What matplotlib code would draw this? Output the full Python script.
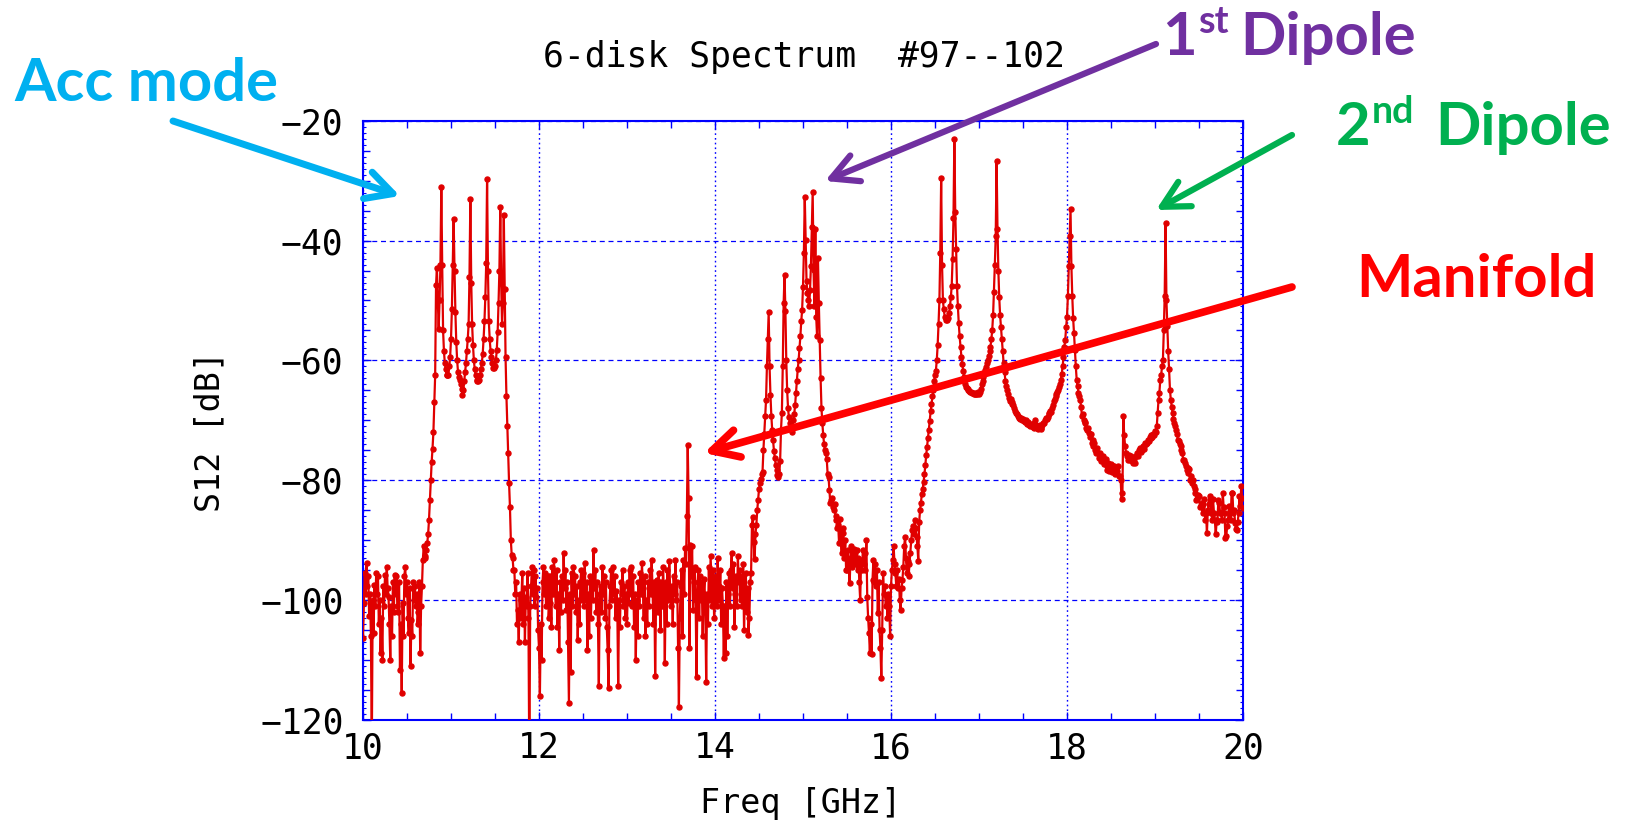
import numpy as np
import matplotlib
matplotlib.use("Agg")
import matplotlib.pyplot as plt
from matplotlib.patches import FancyArrowPatch
from matplotlib.ticker import MultipleLocator

# ---------------- data ----------------
freq_ghz = np.linspace(10.0, 20.0, 1001)   # uniform VNA sweep, 10 MHz step

s12_10 = [
    -106.3, -100.5, -95.5, -99.0, -93.8, -97.7, -96.0, -102.7, -99.0, -106.0,
    -125.0, -100.0, -105.5, -97.4, -101.0, -95.5, -99.0, -96.0, -104.0, -100.0,
    -108.8, -103.0, -110.0, -97.7, -101.0, -95.8, -99.0, -94.4, -98.0, -99.4,
    -104.0, -110.0, -101.0, -106.0, -97.0, -102.0, -95.8, -99.0, -96.0, -101.0,
    -102.0, -97.0, -111.6, -104.0, -115.5, -100.5, -106.0, -96.0, -94.4, -99.0,
    -97.0, -103.0, -105.5, -98.0, -111.0, -103.3, -106.0, -97.0, -100.0, -97.7,
    -101.0, -99.0, -104.0, -102.0, -97.0, -108.8, -101.0, -97.7, -93.3, -91.0,
    -93.0, -92.7, -91.6, -90.5, -89.0, -86.6, -83.3, -80.0, -77.0, -74.7,
    -72.0, -67.0, -62.5, -47.4, -44.5, -50.0, -54.7, -50.0, -44.0, -31.0,
    -44.0, -55.0, -58.5, -60.5, -61.5, -62.5, -62.5, -62.5, -61.0, -59.5,
]
s12_11 = [
    -56.5, -51.5, -44.0, -36.4, -45.0, -52.0, -57.0, -60.0, -62.0, -62.8,
    -63.2, -64.0, -64.8, -65.7, -65.0, -63.5, -62.0, -60.5, -58.5, -56.5,
    -54.0, -46.0, -33.0, -47.0, -54.0, -57.5, -60.0, -61.5, -62.5, -63.2,
    -63.4, -63.4, -63.2, -62.5, -61.5, -60.5, -59.0, -56.5, -53.5, -49.5,
    -43.8, -29.8, -45.0, -53.5, -56.5, -58.5, -59.5, -60.5, -61.3, -61.3,
    -61.0, -60.0, -58.3, -55.3, -50.5, -45.0, -34.4, -47.0, -54.0, -50.4,
    -35.8, -48.0, -59.5, -66.0, -71.0, -75.5, -80.5, -84.5, -90.0, -92.5,
    -93.0, -95.0, -95.0, -99.0, -97.0, -104.0, -101.6, -107.0, -99.0, -103.0,
    -100.0, -95.5, -104.0, -98.0, -107.0, -99.5, -101.0, -95.5, -103.0, -128.0,
    -101.0, -97.7, -94.4, -99.0, -95.0, -101.0, -96.0, -99.5, -98.0, -105.0,
]
s12_12 = [
    -108.0, -116.0, -104.0, -110.0, -97.0, -94.4, -99.0, -95.5, -101.0, -97.7,
    -96.0, -103.0, -100.5, -96.0, -104.4, -94.4, -99.0, -93.3, -97.0, -101.0,
    -95.0, -104.4, -99.0, -108.3, -97.0, -102.0, -96.0, -100.0, -92.2, -98.0,
    -95.0, -101.6, -97.0, -107.0, -117.2, -99.0, -112.0, -95.5, -101.0, -94.4,
    -99.0, -96.0, -102.0, -97.7, -106.6, -100.0, -104.0, -97.0, -95.0, -100.0,
    -95.5, -101.0, -93.8, -100.0, -97.0, -108.3, -99.0, -106.0, -96.0, -103.0,
    -96.6, -100.0, -91.7, -98.0, -95.0, -102.0, -97.0, -104.0, -114.4, -99.0,
    -97.7, -102.0, -94.4, -99.0, -96.0, -103.0, -97.0, -104.4, -108.3, -114.7,
    -101.0, -97.7, -95.0, -100.0, -94.4, -99.0, -96.0, -103.0, -98.5, -101.6,
    -114.4, -100.0, -104.4, -97.0, -99.0, -95.0, -101.0, -97.7, -103.0, -99.0,
]
s12_13 = [
    -104.0, -97.0, -100.5, -95.0, -99.0, -94.4, -101.0, -96.0, -104.4, -99.0,
    -110.0, -100.0, -106.0, -97.0, -101.0, -95.5, -99.0, -93.8, -98.0, -103.0,
    -96.0, -106.0, -100.0, -104.0, -97.0, -101.0, -95.0, -99.0, -93.3, -98.0,
    -104.0, -97.0, -112.7, -100.0, -96.6, -102.0, -95.5, -99.0, -105.0, -97.0,
    -101.0, -94.4, -99.0, -110.5, -97.0, -104.0, -95.0, -100.0, -93.5, -98.0,
    -101.0, -97.7, -104.0, -96.0, -99.0, -93.3, -100.0, -97.0, -108.0, -117.8,
    -103.0, -97.7, -95.0, -106.0, -93.3, -99.0, -91.3, -94.0, -86.0, -74.1,
    -83.0, -108.0, -90.8, -96.0, -91.0, -101.6, -97.0, -94.4, -100.0, -112.9,
    -99.0, -95.0, -103.0, -96.0, -100.0, -97.0, -106.0, -99.0, -96.5, -102.0,
    -113.6, -99.0, -104.0, -94.4, -100.0, -92.7, -97.0, -101.0, -95.0, -103.0,
]
s12_14 = [
    -100.5, -96.0, -101.0, -93.0, -97.7, -100.0, -95.0, -104.0, -98.0, -101.0,
    -109.7, -101.0, -108.8, -97.0, -106.0, -99.0, -95.5, -101.0, -95.0, -92.2,
    -98.0, -94.0, -104.4, -99.0, -96.0, -101.0, -92.7, -97.0, -95.0, -100.0,
    -96.0, -101.0, -94.0, -105.0, -99.0, -95.5, -102.0, -98.0, -105.8, -103.0,
    -97.0, -95.5, -87.4, -86.2, -90.3, -93.2, -89.0, -87.4, -85.0, -83.3,
    -81.5, -80.5, -79.8, -79.0, -78.6, -75.0, -72.2, -69.2, -66.6, -61.0,
    -56.4, -52.0, -61.0, -65.7, -69.2, -71.6, -73.3, -75.1, -76.3, -77.4,
    -78.3, -79.2, -79.5, -79.0, -76.8, -71.6, -68.7, -61.0, -50.5, -45.8,
    -51.7, -60.0, -65.0, -68.0, -69.5, -70.5, -71.5, -72.0, -71.0, -70.0,
    -69.0, -67.5, -65.5, -63.5, -61.5, -60.0, -58.0, -56.0, -53.5, -51.6,
]
s12_15 = [
    -47.7, -42.0, -32.7, -39.9, -46.8, -48.8, -49.9, -51.0, -48.2, -44.3,
    -37.7, -31.9, -44.9, -51.0, -38.1, -52.7, -56.0, -42.9, -50.4, -56.6,
    -63.0, -68.0, -70.5, -72.5, -74.0, -75.0, -75.5, -76.5, -79.0, -79.4,
    -81.6, -83.8, -83.3, -83.0, -84.4, -85.0, -84.0, -86.6, -86.0, -88.0,
    -87.5, -90.5, -86.5, -90.0, -92.2, -88.0, -88.8, -93.0, -90.0, -95.0,
    -95.0, -91.6, -94.0, -97.2, -93.0, -91.0, -94.5, -93.8, -91.5, -92.2,
    -94.0, -91.6, -95.0, -93.0, -97.0, -100.0, -93.3, -95.0, -91.6, -94.0,
    -92.2, -95.0, -90.0, -99.4, -103.0, -105.5, -108.8, -104.0, -109.0, -96.6,
    -93.3, -97.0, -94.0, -97.7, -95.0, -102.2, -97.0, -105.0, -108.0, -113.0,
    -105.0, -95.5, -99.0, -97.7, -101.0, -99.4, -103.0, -99.0, -101.0, -106.0,
]
s12_16 = [
    -97.7, -95.0, -93.3, -91.0, -94.0, -95.5, -97.7, -95.0, -98.0, -96.5,
    -100.0, -101.6, -98.0, -96.6, -94.4, -91.0, -89.4, -93.0, -95.5, -93.5,
    -96.0, -94.0, -92.2, -90.0, -88.3, -87.7, -89.0, -86.6, -88.0, -89.4,
    -91.0, -93.4, -87.0, -85.0, -83.8, -82.3, -81.5, -80.3, -79.0, -77.5,
    -75.8, -74.4, -73.0, -71.6, -70.1, -68.5, -67.3, -66.0, -65.0, -63.5,
    -62.5, -61.7, -60.0, -57.5, -54.0, -50.0, -42.0, -29.6, -44.0, -50.0,
    -51.5, -52.7, -53.0, -53.2, -53.2, -53.0, -52.1, -51.0, -49.5, -47.5,
    -43.0, -36.3, -23.1, -35.2, -41.4, -47.6, -51.0, -53.8, -56.0, -57.7,
    -59.4, -60.6, -61.7, -62.8, -63.9, -64.5, -64.6, -64.8, -65.0, -65.1,
    -65.2, -65.3, -65.4, -65.5, -65.6, -65.6, -65.5, -65.6, -65.6, -65.2,
]
s12_17 = [
    -65.6, -65.2, -64.8, -64.0, -63.4, -62.8, -62.3, -61.6, -61.1, -60.5,
    -60.0, -59.2, -58.5, -57.7, -56.5, -55.0, -52.5, -48.5, -44.0, -39.2,
    -26.8, -38.0, -45.0, -49.5, -52.5, -54.5, -56.5, -58.5, -60.5, -62.0,
    -63.4, -64.2, -65.0, -65.6, -66.3, -66.8, -66.5, -67.0, -67.3, -67.5,
    -68.0, -68.5, -68.8, -69.0, -69.3, -69.6, -69.4, -69.8, -69.6, -70.0,
    -69.8, -70.1, -70.3, -70.0, -70.4, -70.6, -70.2, -70.7, -71.0, -70.6,
    -70.7, -71.1, -71.3, -70.5, -70.0, -70.8, -71.2, -71.5, -71.3, -70.8,
    -71.5, -71.2, -70.8, -70.5, -70.4, -70.0, -69.6, -69.8, -69.5, -69.0,
    -68.8, -68.5, -68.6, -67.9, -67.5, -66.8, -66.4, -66.0, -65.6, -65.2,
    -64.9, -64.5, -64.0, -63.2, -62.3, -61.0, -59.5, -57.7, -56.6, -54.5,
]
s12_18 = [
    -52.7, -49.3, -44.3, -39.3, -34.8, -44.3, -49.3, -53.0, -55.5, -58.2,
    -61.0, -63.2, -64.3, -65.4, -66.0, -66.6, -67.7, -69.3, -69.0, -69.9,
    -70.2, -70.4, -71.3, -71.6, -71.2, -72.1, -72.7, -72.3, -73.8, -73.2,
    -74.3, -73.8, -74.9, -75.4, -74.6, -75.4, -76.3, -75.5, -76.0, -76.8,
    -76.6, -76.0, -77.3, -77.1, -76.5, -77.7, -78.3, -77.2, -78.5, -78.2,
    -77.3, -78.6, -77.7, -77.7, -78.9, -78.8, -77.9, -78.4, -77.7, -79.3,
    -79.3, -80.0, -83.2, -82.1, -69.3, -72.4, -74.3, -75.4, -76.0, -76.6,
    -75.8, -76.4, -76.6, -76.0, -76.7, -77.1, -76.4, -77.1, -76.0, -75.7,
    -75.4, -75.9, -75.0, -74.6, -75.2, -74.9, -74.3, -74.7, -74.3, -73.8,
    -73.9, -73.8, -73.2, -73.5, -72.7, -72.9, -72.4, -72.7, -72.2, -72.5,
]
s12_19 = [
    -71.8, -72.0, -71.0, -68.8, -66.6, -65.4, -63.2, -62.4, -61.0, -59.9,
    -55.0, -49.3, -37.1, -50.0, -54.3, -58.5, -61.5, -64.9, -66.6, -67.7,
    -68.8, -69.8, -70.4, -71.0, -71.6, -72.3, -73.2, -73.5, -74.0, -74.3,
    -75.0, -75.4, -76.6, -76.6, -77.2, -77.7, -78.3, -78.8, -78.0, -78.2,
    -80.0, -79.3, -80.5, -80.0, -81.0, -81.5, -82.1, -83.3, -83.2, -82.5,
    -82.7, -84.4, -84.3, -83.8, -85.4, -84.0, -83.2, -86.6, -85.4, -88.8,
    -85.0, -84.0, -82.7, -83.3, -85.4, -86.6, -83.2, -85.4, -86.6, -89.0,
    -87.0, -86.6, -83.3, -83.8, -85.5, -85.4, -86.6, -82.1, -84.5, -85.4,
    -89.7, -89.3, -87.7, -86.6, -84.3, -84.4, -86.6, -82.2, -82.1, -85.5,
    -84.9, -87.2, -88.2, -88.3, -87.0, -85.5, -82.7, -84.3, -81.0, -83.0,
]
s12_20 = [-84.7]

x_ticks = [10, 12, 14, 16, 18, 20]
y_ticks = [-120, -100, -80, -60, -40, -20]

title_text = "6-disk Spectrum  #97--102"
xlabel_text = "Freq [GHz]"
ylabel_text = "S12 [dB]"

s12_db = np.array(s12_10 + s12_11 + s12_12 + s12_13 + s12_14 + s12_15 +
                  s12_16 + s12_17 + s12_18 + s12_19 + s12_20)
assert len(s12_db) == len(freq_ghz)

# ---------------- figure ----------------
W, H = 1626, 823
fig = plt.figure(figsize=(W / 100, H / 100), dpi=100)
fig.patch.set_facecolor("white")


def fx(x):
    return x / W


def fy(y):
    return 1 - y / H


ax = fig.add_axes([fx(363), fy(720), 880 / W, 599.3 / H])
ax.plot(freq_ghz, s12_db, color="#E00000", lw=1.6, marker="o", ms=3.6,
        mfc="#E00000", mec="#E00000", zorder=3)
ax.set_xlim(10, 20)
ax.set_ylim(-120, -20)

mono = "DejaVu Sans Mono"
blue = "#0000FF"
ax.set_xticks(x_ticks)
ax.set_yticks(y_ticks)
ax.xaxis.set_minor_locator(MultipleLocator(0.5))
ax.yaxis.set_minor_locator(MultipleLocator(5))
ax.tick_params(which="both", direction="in", top=True, right=True,
               color=blue, width=1.0)
ax.tick_params(which="major", length=6)
ax.tick_params(which="minor", length=5)
ax.tick_params(axis="y", which="major", labelsize=25, pad=14)
ax.tick_params(axis="x", which="major", labelsize=25, pad=8)
for lab in ax.get_xticklabels() + ax.get_yticklabels():
    lab.set_fontfamily(mono)

for sp in ax.spines.values():
    sp.set_color(blue)
    sp.set_linewidth(1.5)

ax.set_axisbelow(True)
ax.xaxis.grid(True, color=blue, ls=(0, (1.2, 2.2)), lw=1.0)
ax.yaxis.grid(True, color=blue, ls=(0, (4, 3)), lw=0.9)

# fine 1 dB tick marks along the side spines
fine = [v for v in range(-119, -20) if v % 5 != 0]
ax.hlines(fine, 0, 0.003, transform=ax.get_yaxis_transform(), color=blue, lw=0.8)
ax.hlines(fine, 0.997, 1.0, transform=ax.get_yaxis_transform(), color=blue, lw=0.8)

fig.text(fx(803.6), fy(66.7), title_text, family=mono, fontsize=25,
         ha="center", va="baseline")
fig.text(fx(801), fy(803), xlabel_text, family=mono, fontsize=24,
         ha="center", va="center")
fig.text(fx(210), fy(431.5), ylabel_text, family=mono, fontsize=24,
         ha="center", va="center", rotation=90)

# ---------------- annotations ----------------
ann_font = ["Lato", "DejaVu Sans"]
c_acc, c_d1, c_d2, c_man = "#00B0F0", "#7030A0", "#00B050", "#FF0000"


def arrow(p0, p1, color, lw):
    a = FancyArrowPatch((fx(p0[0]), fy(p0[1])), (fx(p1[0]), fy(p1[1])),
                        transform=fig.transFigure,
                        arrowstyle="->,head_length=0.95,head_width=0.5",
                        mutation_scale=20, color=color, lw=lw,
                        shrinkA=0, shrinkB=0, capstyle="round",
                        joinstyle="round", zorder=10)
    fig.add_artist(a)


arrow((173, 121), (400, 196), c_acc, 5.0)
arrow((1156, 44), (825, 181), c_d1, 4.5)
arrow((1292, 135), (1156, 210), c_d2, 4.5)
arrow((1292, 287), (704, 453), c_man, 5.5)

fs_big, fs_sup = 43, 27
fig.text(fx(14), fy(100.7), "Acc mode", color=c_acc, family=ann_font,
         fontsize=fs_big, weight="bold", ha="left", va="baseline")
fig.text(fx(1356), fy(297), "Manifold", color=c_man, family=ann_font,
         fontsize=fs_big, weight="bold", ha="left", va="baseline")

renderer = fig.canvas.get_renderer()

t1 = fig.text(fx(1162), fy(55), "1", color=c_d1, family=ann_font,
              fontsize=fs_big, weight="bold", ha="left", va="baseline")
x1 = t1.get_window_extent(renderer).x1
fig.text((x1 + 1) / W, fy(33), "st", color=c_d1, family=ann_font,
         fontsize=fs_sup, weight="bold", ha="left", va="baseline")
fig.text(fx(1416), fy(55), "Dipole", color=c_d1, family=ann_font,
         fontsize=fs_big, weight="bold", ha="right", va="baseline")

t2 = fig.text(fx(1336), fy(145), "2", color=c_d2, family=ann_font,
              fontsize=fs_big, weight="bold", ha="left", va="baseline")
x2 = t2.get_window_extent(renderer).x1
fig.text((x2 + 1) / W, fy(123), "nd", color=c_d2, family=ann_font,
         fontsize=fs_sup, weight="bold", ha="left", va="baseline")
fig.text(fx(1611), fy(145), "Dipole", color=c_d2, family=ann_font,
         fontsize=fs_big, weight="bold", ha="right", va="baseline")

fig.savefig("out.png", dpi=100)
